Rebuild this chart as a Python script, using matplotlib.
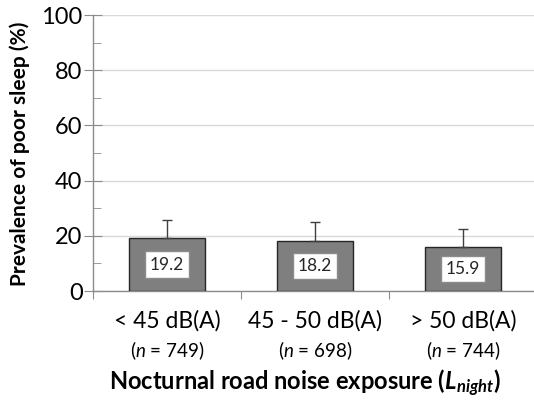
import matplotlib
matplotlib.use("Agg")
import matplotlib.pyplot as plt
from matplotlib.ticker import MultipleLocator
import matplotlib.transforms as mtransforms

categories = ["< 45 dB(A)", "45 - 50 dB(A)", "> 50 dB(A)"]
n_labels = ["749", "698", "744"]
prevalence = [19.2, 18.2, 15.9]
err_upper = [6.5, 6.7, 6.5]

plt.rcParams['font.family'] = ['Lato', 'DejaVu Sans']
plt.rcParams['mathtext.fontset'] = 'custom'
plt.rcParams['mathtext.it'] = 'Lato:italic'
plt.rcParams['mathtext.bf'] = 'Lato:bold:italic'
plt.rcParams['mathtext.rm'] = 'Lato'

fig = plt.figure(figsize=(5.34, 4.0), dpi=100)
ax = fig.add_axes([93/534, (400-291)/400, 444/534, 276/400])

x = list(range(len(categories)))
ax.bar(x, prevalence, width=0.51, color="#7f7f7f", edgecolor="#262626", linewidth=1.0, zorder=3)
ax.errorbar(x, prevalence, yerr=[[0]*3, err_upper], fmt='none', ecolor="#404040",
            elinewidth=1.0, capsize=3.5, capthick=1.0, zorder=4)

for xi, v in zip(x, prevalence):
    ax.text(xi, v/2, f"{v:.1f}", ha='center', va='center', fontsize=12.5, color="#262626", zorder=5,
            bbox=dict(boxstyle='square,pad=0.3', facecolor='white', edgecolor='#8c8c8c', linewidth=1.0))

ax.set_xlim(-0.5, 2.5)
ax.set_ylim(0, 100)
ax.yaxis.set_major_locator(MultipleLocator(20))
ax.yaxis.set_minor_locator(MultipleLocator(10))
ax.grid(axis='y', which='major', color='#d9d9d9', linewidth=1.0, zorder=0)
ax.set_axisbelow(True)

for s in ['top', 'right']:
    ax.spines[s].set_visible(False)
for s in ['left', 'bottom']:
    ax.spines[s].set_color('#8c8c8c')
    ax.spines[s].set_linewidth(1.0)

ax.tick_params(axis='y', which='major', direction='inout', length=13, color='#8c8c8c', labelsize=17, pad=1, labelcolor='black')
ax.tick_params(axis='y', which='minor', direction='in', length=6, color='#8c8c8c')

# x ticks at category boundaries
ax.set_xticks([-0.5, 0.5, 1.5, 2.5])
ax.set_xticklabels([])
ax.tick_params(axis='x', which='major', direction='out', length=6, color='#8c8c8c')

trans = mtransforms.blended_transform_factory(ax.transData, fig.transFigure)
for xi, cat, nl in zip(x, categories, n_labels):
    fig.text(xi, 1 - 321/400, cat, transform=trans, ha='center', va='center', fontsize=16.5)
    fig.text(xi, 1 - 351/400, f"($n$ = {nl})", transform=trans, ha='center', va='center', fontsize=13.5)

fig.text(305/534, 1 - 383/400, r"Nocturnal road noise exposure ($\mathbf{L}_{\mathbf{night}}$)",
         ha='center', va='center', fontsize=17, fontweight='bold')
fig.text(20/534, 1 - 154/400, "Prevalence of poor sleep (%)", rotation=90,
         ha='center', va='center', fontsize=15, fontweight='bold')

fig.savefig("out.png", dpi=100)
